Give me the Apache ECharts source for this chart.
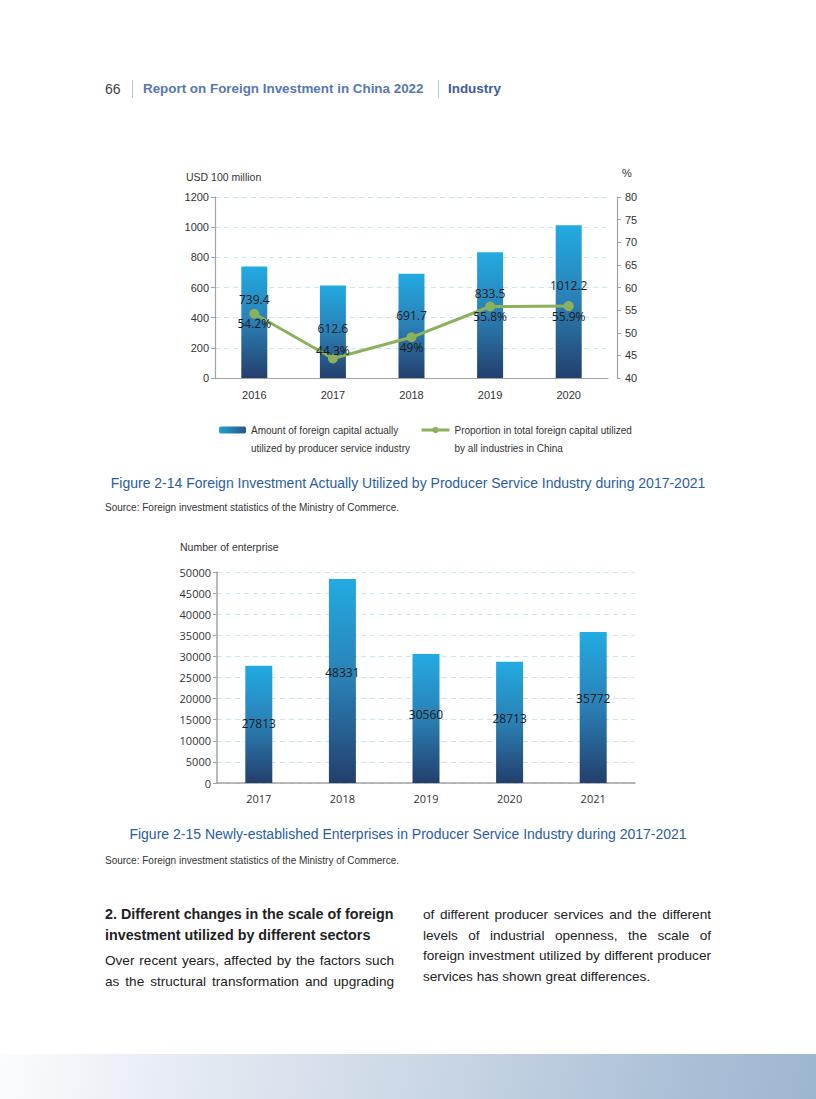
<!DOCTYPE html>
<html>
<head>
<meta charset="utf-8">
<script src="https://cdn.jsdelivr.net/npm/echarts@6/dist/echarts.min.js"></script>
<style>
  body { margin: 0; background: #fff; }
  #page { position: relative; width: 816px; height: 1099px; overflow: hidden; font-family: 'Liberation Sans', Arial, sans-serif; }
  #chart { position: absolute; left: 0; top: 0; width: 816px; height: 1099px; }
  .hdr { position: absolute; top: 79px; height: 20px; line-height: 20px; white-space: nowrap; }
  .sep { position: absolute; top: 80px; width: 1px; height: 18px; background: #b9c9de; }
  .col { position: absolute; color: #222; font-size: 13.6px; }
  .ln { display: block; white-space: nowrap; }
  .j { text-align: justify; text-align-last: justify; white-space: normal; }
  #band { position: absolute; left: 0; top: 1054px; width: 816px; height: 45px;
          background: linear-gradient(100deg, #fbfcfe 0%, #e3e9f2 25%, #c8d5e4 55%, #aec2d8 80%, #9db6cf 100%); }
</style>
</head>
<body>
<div id="page">
  <div id="chart"></div>
  <div class="hdr" style="left:105px;font-size:14px;color:#444;">66</div>
  <div class="sep" style="left:132px;"></div>
  <div class="hdr" style="left:143px;font-size:13.4px;font-weight:bold;color:#5877b2;">Report on Foreign Investment in China 2022</div>
  <div class="sep" style="left:438px;"></div>
  <div class="hdr" style="left:448px;font-size:13.4px;font-weight:bold;color:#3c5c9c;">Industry</div>

  <div class="col" style="left:105px;top:904px;width:289px;">
    <div style="font-weight:bold;font-size:14.3px;line-height:21px;">
      <span class="ln">2. Different changes in the scale of foreign</span>
      <span class="ln">investment utilized by different sectors</span>
    </div>
    <div style="margin-top:4px;line-height:21px;">
      <span class="ln j">Over recent years, affected by the factors such</span>
      <span class="ln j">as the structural transformation and upgrading</span>
    </div>
  </div>
  <div class="col" style="left:423px;top:905px;width:288px;line-height:20.5px;">
    <span class="ln j">of different producer services and the different</span>
    <span class="ln j">levels of industrial openness, the scale of</span>
    <span class="ln j">foreign investment utilized by different producer</span>
    <span class="ln">services has shown great differences.</span>
  </div>
  <div id="band"></div>
</div>
<script>
// ---- data ----
const years1 = ['2016', '2017', '2018', '2019', '2020'];
const amount1 = [739.4, 612.6, 691.7, 833.5, 1012.2];
const share1 = [54.2, 44.3, 49, 55.8, 55.9];
const years2 = ['2017', '2018', '2019', '2020', '2021'];
const firms2 = [27813, 48331, 30560, 28713, 35772];
const leftTicks1 = { min: 0, max: 1200, interval: 200 };
const rightTicks1 = { min: 40, max: 80, interval: 5 };
const leftTicks2 = { min: 0, max: 50000, interval: 5000 };

const barName1 = 'Amount of foreign capital actually\nutilized by producer service industry';
const lineName1 = 'Proportion in total foreign capital utilized\nby all industries in China';
const caption1 = 'Figure 2-14 Foreign Investment Actually Utilized by Producer Service Industry during 2017-2021';
const caption2 = 'Figure 2-15 Newly-established Enterprises in Producer Service Industry during 2017-2021';
const sourceText = 'Source: Foreign investment statistics of the Ministry of Commerce.';

// ---- label styling (not data) ----
const barLabelShift1 = [-23, -3, -10, -22, -16];
const lineLabelPos1 = ['bottom', 'top', 'bottom', 'bottom', 'bottom'];
const barLabelShift2 = [-1, -9, -4, -4, -9];

const NARROW = "'Liberation Sans Narrow', 'Arial Narrow', 'Liberation Sans', sans-serif";
const ARIAL = "'Liberation Sans', Arial, sans-serif";
const SEGOE = "'Open Sans', 'Noto Sans', sans-serif";
const axisGray = '#a3a3a3';
const gridBlue = '#cae6f0';
const plain = v => String(v);

const barGrad = () => new echarts.graphic.LinearGradient(0, 0, 0, 1, [
  { offset: 0, color: '#22abe2' },
  { offset: 0.5, color: '#2a7fb5' },
  { offset: 1, color: '#233f6c' }
]);
const barGradH = new echarts.graphic.LinearGradient(0, 0, 1, 0, [
  { offset: 0, color: '#22a0d8' },
  { offset: 1, color: '#2a5687' }
]);

const chart = echarts.init(document.getElementById('chart'), null, { renderer: 'svg' });

const legendText = { fontSize: 10, lineHeight: 18, color: '#333', fontFamily: NARROW };

const option = {
  backgroundColor: 'transparent',
  animation: false,
  title: [
    { text: caption1, left: 'center', top: 471,
      textStyle: { fontSize: 14, fontWeight: 'normal', color: '#2a5d9f', fontFamily: ARIAL } },
    { text: sourceText, left: 100, top: 497,
      textStyle: { fontSize: 10, fontWeight: 'normal', color: '#333', fontFamily: NARROW } },
    { text: caption2, left: 'center', top: 822,
      textStyle: { fontSize: 14, fontWeight: 'normal', color: '#2a5d9f', fontFamily: ARIAL } },
    { text: sourceText, left: 100, top: 850,
      textStyle: { fontSize: 10, fontWeight: 'normal', color: '#333', fontFamily: NARROW } }
  ],
  legend: [
    { data: [{ name: barName1, itemStyle: { color: barGradH } }], left: 214, top: 398,
      itemWidth: 27, itemHeight: 7, selectedMode: false,
      formatter: n => '\n' + n, textStyle: legendText },
    { data: [lineName1], left: 415, top: 398,
      itemWidth: 28, itemHeight: 8, selectedMode: false,
      lineStyle: { width: 3 },
      formatter: n => '\n' + n, textStyle: legendText }
  ],
  grid: [
    { left: 215, right: 208, top: 197, bottom: 721 },
    { left: 217, right: 181, top: 572, bottom: 316 }
  ],
  xAxis: [
    { gridIndex: 0, type: 'category', data: years1,
      axisLine: { lineStyle: { color: axisGray, width: 1.2 } }, axisTick: { show: false },
      axisLabel: { color: '#333', fontSize: 11, fontFamily: ARIAL, margin: 11 } },
    { gridIndex: 1, type: 'category', data: years2,
      axisLine: { lineStyle: { color: axisGray, width: 1.5 } }, axisTick: { show: false },
      axisLabel: { color: '#333', fontSize: 11, fontFamily: SEGOE, margin: 10 } }
  ],
  yAxis: [
    { gridIndex: 0, type: 'value', min: leftTicks1.min, max: leftTicks1.max, interval: leftTicks1.interval,
      name: 'USD 100 million', nameLocation: 'end', nameGap: 15,
      nameTextStyle: { align: 'left', padding: [0, 0, 0, -29], fontSize: 10.5, color: '#333', fontFamily: NARROW },
      axisLine: { show: true, lineStyle: { color: axisGray, width: 1.2 } },
      axisTick: { show: true, length: 4, lineStyle: { color: axisGray } },
      axisLabel: { color: '#333', fontSize: 11, fontFamily: ARIAL, margin: 6, formatter: plain },
      splitLine: { show: true, lineStyle: { color: gridBlue, type: [5, 4], width: 1 } } },
    { gridIndex: 0, type: 'value', position: 'right', offset: 9,
      min: rightTicks1.min, max: rightTicks1.max, interval: rightTicks1.interval,
      name: '%', nameLocation: 'end', nameGap: 19,
      nameTextStyle: { align: 'left', padding: [0, 0, 0, 5], fontSize: 11, color: '#333', fontFamily: ARIAL },
      axisLine: { show: true, lineStyle: { color: axisGray, width: 1.2 } },
      axisTick: { show: true, length: 4, lineStyle: { color: axisGray } },
      axisLabel: { color: '#333', fontSize: 11, fontFamily: ARIAL, margin: 8, formatter: plain },
      splitLine: { show: false } },
    { gridIndex: 1, type: 'value', min: leftTicks2.min, max: leftTicks2.max, interval: leftTicks2.interval,
      name: 'Number of enterprise', nameLocation: 'end', nameGap: 20,
      nameTextStyle: { align: 'left', padding: [0, 0, 0, -37], fontSize: 10.5, color: '#333', fontFamily: NARROW },
      axisLine: { show: true, lineStyle: { color: axisGray, width: 1.5 } },
      axisTick: { show: true, length: 4, lineStyle: { color: axisGray } },
      axisLabel: { color: '#333', fontSize: 11, fontFamily: SEGOE, margin: 6, formatter: plain },
      splitLine: { show: true, lineStyle: { color: gridBlue, type: [5, 4], width: 1 } } }
  ],
  series: [
    { name: barName1, type: 'bar', xAxisIndex: 0, yAxisIndex: 0, barWidth: 26,
      itemStyle: { color: barGrad() },
      label: { show: true, position: 'inside', color: '#1a1a1a', fontSize: 12, fontFamily: SEGOE },
      data: amount1.map((v, i) => ({ value: v, label: { offset: [0, barLabelShift1[i]] } })) },
    { name: lineName1, type: 'line', xAxisIndex: 0, yAxisIndex: 1,
      symbol: 'circle', symbolSize: 10,
      lineStyle: { color: '#8cb15c', width: 3 }, itemStyle: { color: '#8cb15c' },
      label: { show: true, formatter: '{c}%', color: '#1a1a1a', fontSize: 12, fontFamily: SEGOE, distance: 0 },
      data: share1.map((v, i) => ({ value: v, label: { position: lineLabelPos1[i], distance: lineLabelPos1[i] === 'top' ? -3 : -1 } })) },
    { name: 'Number of enterprise', type: 'bar', xAxisIndex: 1, yAxisIndex: 2, barWidth: 27,
      itemStyle: { color: barGrad() },
      label: { show: true, position: 'inside', color: '#1a1a1a', fontSize: 12, fontFamily: SEGOE },
      data: firms2.map((v, i) => ({ value: v, label: { offset: [0, barLabelShift2[i]] } })) }
  ]
};
chart.setOption(option);
</script>
</body>
</html>
